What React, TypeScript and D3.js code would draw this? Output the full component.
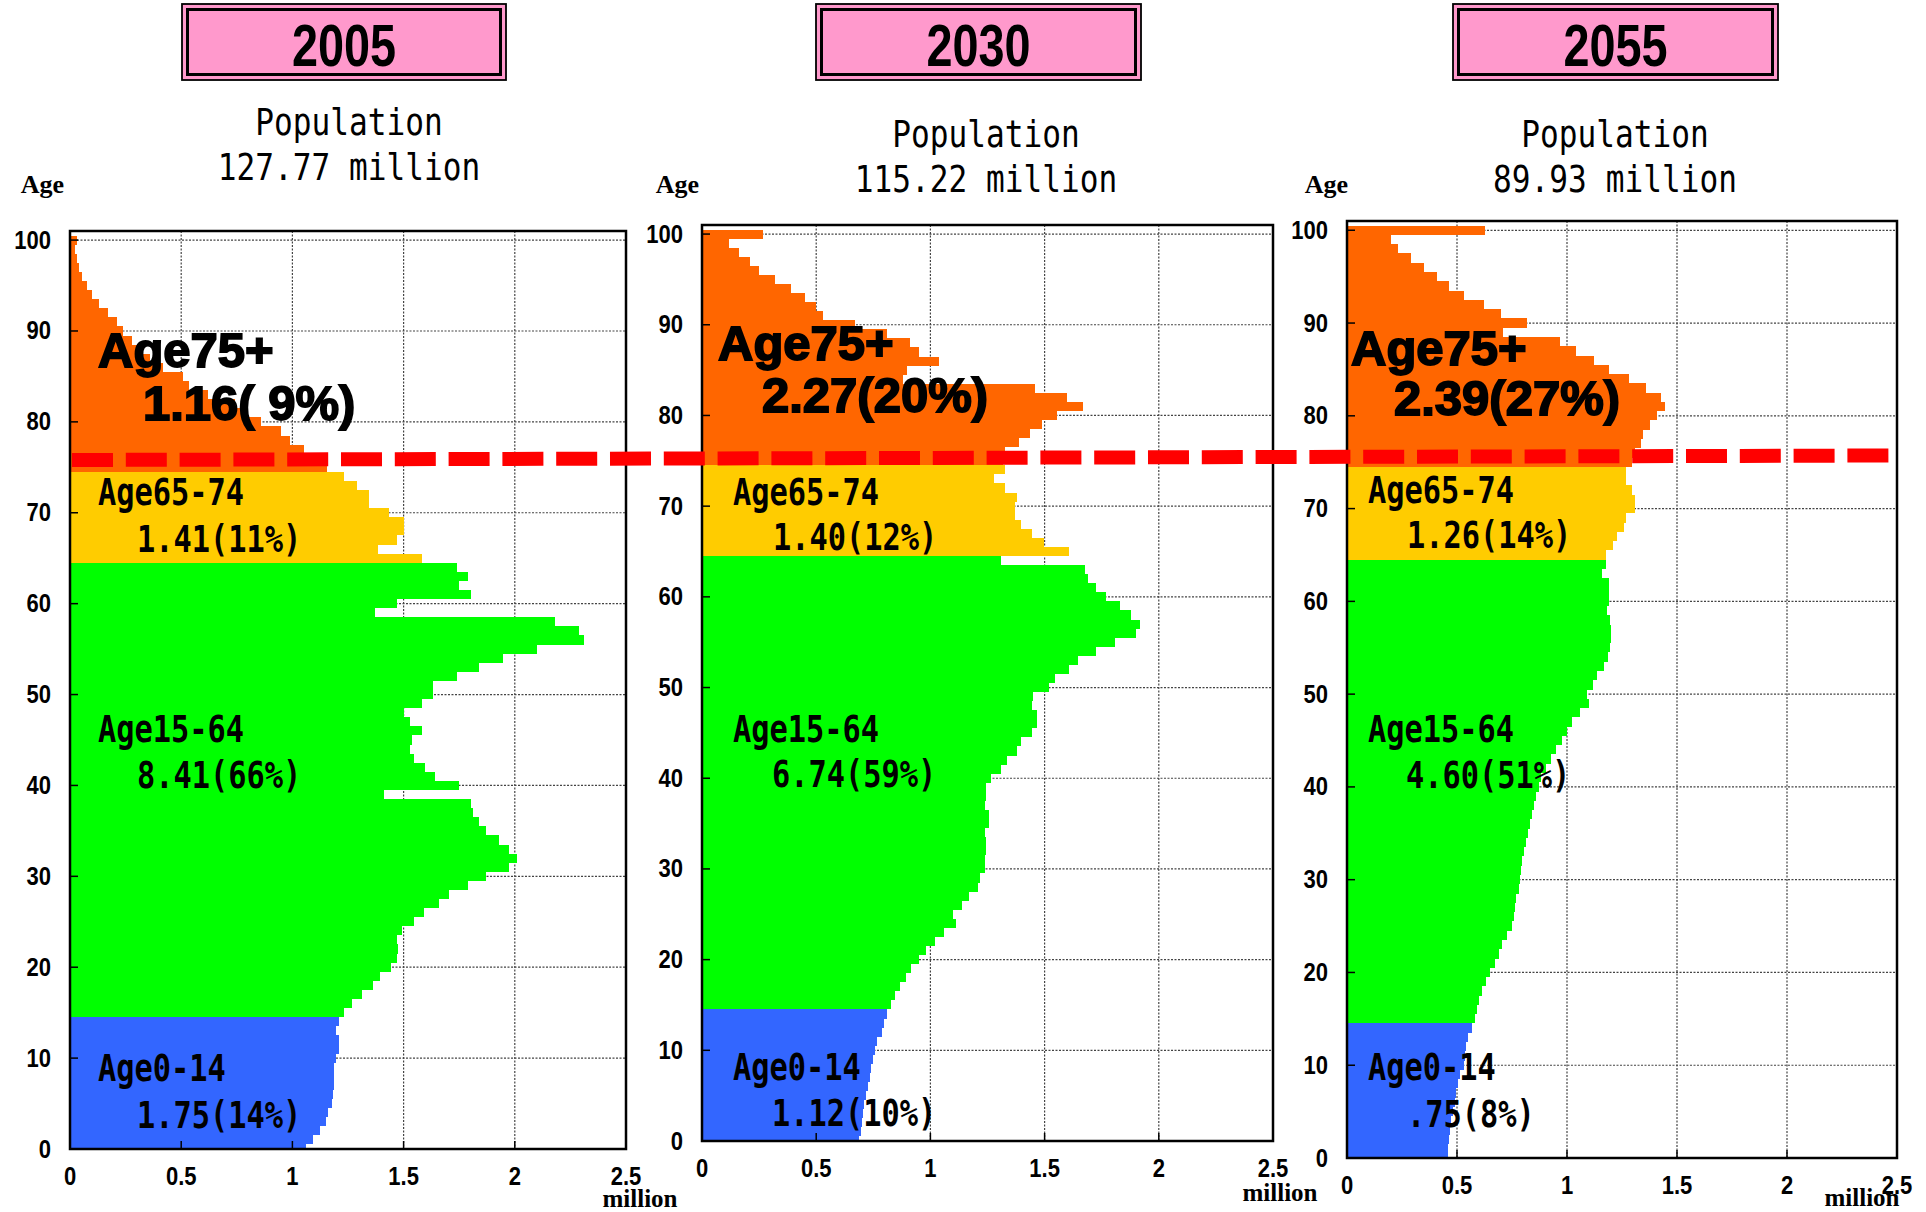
import * as d3 from "d3";

// Japan population by single year of age (million people), ages 0..100 (100 = 100+)
const AGES = d3.range(0, 101);
const YEARS = ["2005", "2030", "2055"];
const TOTALS = ["127.77", "115.22", "89.93"];

const POP_2005 = [
  1.06, 1.092, 1.123, 1.151, 1.16, 1.179, 1.183, 1.189, 1.189, 1.189,
  1.198, 1.208, 1.208, 1.198, 1.209, 1.23, 1.27, 1.311, 1.362, 1.392,
  1.443, 1.472, 1.477, 1.472, 1.491, 1.547, 1.59, 1.66, 1.702, 1.789,
  1.872, 1.972, 2.009, 1.972, 1.93, 1.872, 1.84, 1.811, 1.802, 1.411,
  1.751, 1.642, 1.598, 1.547, 1.528, 1.538, 1.581, 1.528, 1.5, 1.581,
  1.632, 1.632, 1.74, 1.84, 1.949, 2.1, 2.311, 2.289, 2.179, 1.372,
  1.472, 1.802, 1.75, 1.789, 1.74, 1.581, 1.383, 1.472, 1.5, 1.5,
  1.434, 1.343, 1.343, 1.292, 1.23, 1.157, 1.16, 1.05, 0.99, 0.95,
  0.861, 0.8, 0.74, 0.62, 0.536, 0.509, 0.42, 0.36, 0.31, 0.277,
  0.24, 0.21, 0.169, 0.13, 0.1, 0.078, 0.052, 0.04, 0.033, 0.022,
  0.03,
];

const POP_2030 = [
  0.688, 0.694, 0.701, 0.706, 0.709, 0.717, 0.728, 0.736, 0.742, 0.749,
  0.758, 0.768, 0.789, 0.796, 0.808, 0.828, 0.847, 0.869, 0.891, 0.917,
  0.951, 0.98, 1.02, 1.059, 1.11, 1.1, 1.14, 1.169, 1.209, 1.219,
  1.238, 1.238, 1.245, 1.245, 1.238, 1.257, 1.257, 1.238, 1.245, 1.245,
  1.267, 1.307, 1.337, 1.377, 1.398, 1.447, 1.467, 1.467, 1.447, 1.45,
  1.518, 1.547, 1.607, 1.647, 1.727, 1.807, 1.898, 1.917, 1.877, 1.829,
  1.768, 1.727, 1.688, 1.679, 1.308, 1.607, 1.498, 1.447, 1.398, 1.369,
  1.369, 1.377, 1.328, 1.279, 1.328, 1.32, 1.328, 1.387, 1.438, 1.489,
  1.556, 1.669, 1.6, 1.457, 0.88, 0.899, 1.038, 0.949, 0.909, 0.81,
  0.669, 0.53, 0.498, 0.45, 0.388, 0.318, 0.25, 0.209, 0.161, 0.118,
  0.267,
];

const POP_2055 = [
  0.46, 0.461, 0.464, 0.47, 0.474, 0.482, 0.489, 0.494, 0.505, 0.512,
  0.53, 0.535, 0.542, 0.55, 0.57, 0.58, 0.591, 0.6, 0.614, 0.633,
  0.652, 0.673, 0.691, 0.705, 0.727, 0.752, 0.758, 0.762, 0.77, 0.78,
  0.785, 0.789, 0.797, 0.805, 0.815, 0.824, 0.833, 0.841, 0.848, 0.861,
  0.873, 0.883, 0.906, 0.929, 0.948, 0.979, 1.0, 1.023, 1.061, 1.098,
  1.091, 1.118, 1.138, 1.168, 1.186, 1.194, 1.198, 1.198, 1.194, 1.183,
  1.189, 1.189, 1.189, 1.161, 1.179, 1.179, 1.209, 1.229, 1.258, 1.27,
  1.308, 1.308, 1.297, 1.27, 1.27, 1.297, 1.308, 1.338, 1.345, 1.379,
  1.409, 1.447, 1.429, 1.358, 1.28, 1.189, 1.121, 1.039, 0.97, 0.709,
  0.82, 0.698, 0.621, 0.53, 0.462, 0.409, 0.35, 0.289, 0.232, 0.2,
  0.629,
];

const SERIES = [POP_2005, POP_2030, POP_2055];

const GROUP_NAMES = ["Age75+", "Age65-74", "Age15-64", "Age0-14"];
const GROUP_MIN_AGE = [75, 65, 15, 0];
const GROUP_COLORS = ["#ff6600", "#ffcc00", "#00ff00", "#3366ff"];
const GROUP_VALUES = [
  ["1.16( 9%)", "1.41(11%)", "8.41(66%)", "1.75(14%)"],
  ["2.27(20%)", "1.40(12%)", "6.74(59%)", "1.12(10%)"],
  ["2.39(27%)", "1.26(14%)", "4.60(51%)", ".75(8%)"],
];

const X_TICKS = [0, 0.5, 1, 1.5, 2, 2.5];
const Y_TICKS = d3.range(0, 101, 10);

// page layout (pixels)
const W = 1926;
const H = 1212;
const LAYOUT = [
  {
    left: 70, right: 626, top: 231, bottom: 1149,
    box: [182, 506], popX: 349, popY: 135, ageEnd: 64,
    millX: 640, millY: 1207,
    labels: [[98, 367, 143, 420], [98, 505, 137, 552], [98, 742, 137, 788], [98, 1081, 137, 1128]],
  },
  {
    left: 702, right: 1273, top: 225, bottom: 1141,
    box: [816, 1141], popX: 986, popY: 147, ageEnd: 699,
    millX: 1280, millY: 1201,
    labels: [[718, 360, 762, 412], [733, 505, 773, 550], [733, 742, 772, 787], [733, 1080, 772, 1126]],
  },
  {
    left: 1347, right: 1897, top: 221, bottom: 1158,
    box: [1453, 1778], popX: 1615, popY: 147, ageEnd: 1348,
    millX: 1862, millY: 1206,
    labels: [[1351, 365, 1394, 415], [1368, 503, 1407, 548], [1368, 742, 1406, 788], [1368, 1080, 1407, 1127]],
  },
];

const SANS = "'Liberation Sans', Arial, sans-serif";
const MONO = "'DejaVu Sans Mono', 'Liberation Mono', monospace";
const SERIF = "'Liberation Serif', 'Times New Roman', serif";

function colorFor(age: number) {
  const i = GROUP_MIN_AGE.findIndex((m) => age >= m);
  return GROUP_COLORS[i];
}

// text squeezed horizontally around its anchor
function Txt(props: {
  x: number; y: number; sx?: number; size: number; family: string;
  weight?: string | number; anchor?: "start" | "middle" | "end";
  stroke?: number; children: string;
}) {
  const { x, y, sx = 1, size, family, weight = "normal", anchor = "start", stroke = 0 } = props;
  return (
    <text
      transform={`translate(${x},${y}) scale(${sx},1)`}
      fontSize={size}
      fontFamily={family}
      fontWeight={weight}
      textAnchor={anchor}
      fill="#000"
      stroke={stroke ? "#000" : "none"}
      strokeWidth={stroke}
      style={{ whiteSpace: "pre" }}
      xmlSpace="preserve"
    >
      {props.children}
    </text>
  );
}

function Panel({ idx }: { idx: number }) {
  const L = LAYOUT[idx];
  const data = SERIES[idx];
  const x = d3.scaleLinear().domain([0, 2.5]).range([L.left, L.right]);
  const y = d3.scaleLinear().domain([0, 101]).range([L.bottom, L.top]);
  const [bx0, bx1] = L.box;
  const bcx = (bx0 + bx1) / 2;

  return (
    <g>
      {/* year box */}
      <rect x={bx0} y={4} width={bx1 - bx0} height={76} fill="#ff99cc" stroke="#000" strokeWidth={1.8} />
      <rect x={bx0 + 5.5} y={9.5} width={bx1 - bx0 - 11} height={65} fill="none" stroke="#000" strokeWidth={3} />
      <Txt x={bcx} y={66} sx={0.78} size={60} family={SANS} weight="bold" anchor="middle">
        {YEARS[idx]}
      </Txt>

      {/* population */}
      <Txt x={L.popX} y={L.popY} sx={0.82} size={38} family={MONO} anchor="middle">
        Population
      </Txt>
      <Txt x={L.popX} y={L.popY + 45} sx={0.82} size={38} family={MONO} anchor="middle">
        {`${TOTALS[idx]} million`}
      </Txt>

      <Txt x={L.ageEnd} y={193} size={26} family={SERIF} weight="bold" anchor="end">
        Age
      </Txt>

      {/* grid */}
      {X_TICKS.filter((t) => t > 0 && t < 2.5).map((t) => (
        <line key={`gx${t}`} x1={x(t)} x2={x(t)} y1={y(101)} y2={y(0)}
          stroke="#444" strokeWidth={1.2} strokeDasharray="2 1.5" />
      ))}
      {Y_TICKS.filter((t) => t > 0).map((t) => (
        <line key={`gy${t}`} x1={x(0)} x2={x(2.5)} y1={y(t)} y2={y(t)}
          stroke="#444" strokeWidth={1.2} strokeDasharray="2 1.5" />
      ))}

      {/* bars */}
      {AGES.map((a) => {
        const y0 = Math.max(a - 0.5, 0);
        const y1 = Math.min(a + 0.5, 101);
        return (
          <rect
            key={a}
            x={x(0)}
            y={y(y1)}
            width={x(data[a]) - x(0)}
            height={y(y0) - y(y1)}
            fill={colorFor(a)}
            shapeRendering="crispEdges"
          />
        );
      })}

      {/* ticks */}
      {Y_TICKS.map((t) => (
        <line key={`ty${t}`} x1={x(0)} x2={x(0) + 8} y1={y(t)} y2={y(t)} stroke="#000" strokeWidth={1.5} />
      ))}
      {X_TICKS.map((t) => (
        <line key={`tx${t}`} x1={x(t)} x2={x(t)} y1={y(0)} y2={y(0) - 8} stroke="#000" strokeWidth={1.5} />
      ))}
      <rect x={x(0)} y={y(101)} width={x(2.5) - x(0)} height={y(0) - y(101)}
        fill="none" stroke="#000" strokeWidth={2.5} />

      {/* tick labels */}
      {Y_TICKS.map((t) => (
        <Txt key={`ly${t}`} x={x(0) - 19} y={y(t) + 8.5} sx={0.88} size={25} family={SANS} weight="bold" anchor="end">
          {String(t)}
        </Txt>
      ))}
      {X_TICKS.map((t) => (
        <Txt key={`lx${t}`} x={x(t)} y={y(0) + 36} sx={0.88} size={25} family={SANS} weight="bold" anchor="middle">
          {String(t)}
        </Txt>
      ))}
      <Txt x={L.millX} y={L.millY} size={25} family={SERIF} weight="bold" anchor="middle">
        million
      </Txt>

      {/* group labels */}
      {GROUP_NAMES.map((name, g) => {
        const [x1, y1, x2, y2] = L.labels[g];
        if (g === 0) {
          return (
            <g key={name}>
              <Txt x={x1} y={y1} size={49} family={SANS} weight="bold" stroke={1.8}>{name}</Txt>
              <Txt x={x2} y={y2} size={49} family={SANS} weight="bold" stroke={1.8}>{GROUP_VALUES[idx][g]}</Txt>
            </g>
          );
        }
        return (
          <g key={name}>
            <Txt x={x1} y={y1} sx={0.82} size={37} family={MONO} weight="bold">{name}</Txt>
            <Txt x={x2} y={y2} sx={0.82} size={37} family={MONO} weight="bold">{GROUP_VALUES[idx][g]}</Txt>
          </g>
        );
      })}
    </g>
  );
}

export default function App() {
  return (
    <div style={{ position: "absolute", left: 0, top: 0, width: W, height: H, background: "#fff" }}>
      <svg width={W} height={H} viewBox={`0 0 ${W} ${H}`} style={{ display: "block" }}>
        <rect width={W} height={H} fill="#fff" />
        {YEARS.map((yr, i) => (
          <Panel key={yr} idx={i} />
        ))}
        {/* 75-year boundary marker */}
        <line x1={72} y1={460} x2={1897} y2={455.5} stroke="#ff0000" strokeWidth={14} strokeDasharray="41 12.8" />
      </svg>
    </div>
  );
}
